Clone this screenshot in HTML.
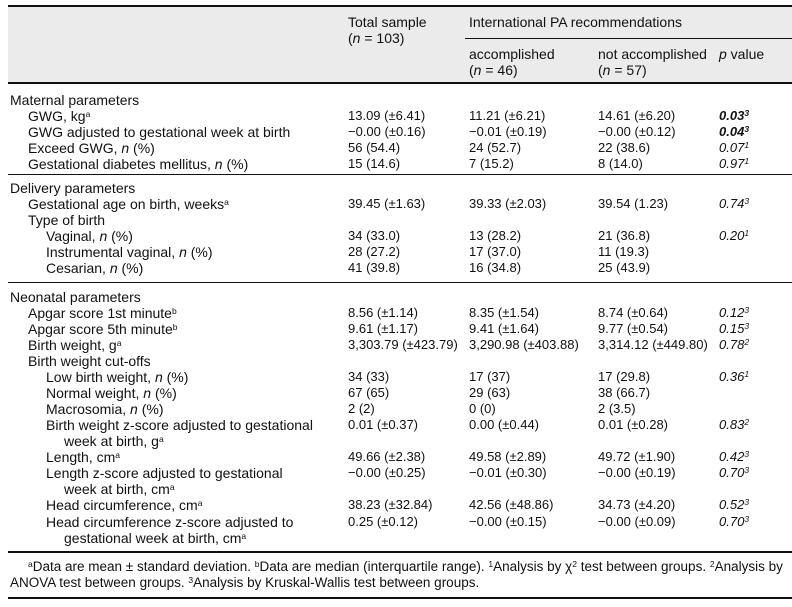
<!DOCTYPE html>
<html><head><meta charset="utf-8"><style>
body{margin:0;width:792px;height:607px;background:#fff;position:relative;overflow:hidden;font-family:"Liberation Sans",sans-serif;font-size:13px;color:#111}
.t{position:absolute;line-height:16px;white-space:nowrap}
.lb{font-size:14px}
.f{font-size:13.5px}
.l{position:absolute;height:1.5px;background:#111}
sup{font-size:8.5px;line-height:0;vertical-align:4px}
i{font-style:italic}
.p{font-style:italic}
.b{font-weight:bold;font-style:italic}
</style></head><body>
<div style="position:absolute;left:8px;top:6px;width:784px;height:77px;background:#ebebeb"></div>
<div class="l" style="left:8px;width:784px;top:5px"></div>
<div class="l" style="left:465px;width:327px;top:38px;height:1px"></div>
<div class="l" style="left:8px;width:784px;top:82px"></div>
<div class="t lb" style="left:348px;top:14px">Total sample</div>
<div class="t lb" style="left:348px;top:30px">(<i>n</i> = 103)</div>
<div class="t lb" style="left:469px;top:14px">International PA recommendations</div>
<div class="t lb" style="left:469px;top:46px">accomplished</div>
<div class="t lb" style="left:469px;top:62px">(<i>n</i> = 46)</div>
<div class="t lb" style="left:598px;top:46px">not accomplished</div>
<div class="t lb" style="left:598px;top:62px">(<i>n</i> = 57)</div>
<div class="t lb" style="left:719px;top:46px"><i>p</i> value</div>

<div class="t lb" style="left:10px;top:92px">Maternal parameters</div>
<div class="t lb" style="left:28px;top:108px">GWG, kg<sup>a</sup></div>
<div class="t" style="left:348px;top:108px">13.09 (±6.41)</div><div class="t" style="left:469px;top:108px">11.21 (±6.21)</div><div class="t" style="left:598px;top:108px">14.61 (±6.20)</div><div class="t b" style="left:719px;top:108px">0.03<sup>3</sup></div>
<div class="t lb" style="left:28px;top:124px">GWG adjusted to gestational week at birth</div>
<div class="t" style="left:348px;top:124px">−0.00 (±0.16)</div><div class="t" style="left:469px;top:124px">−0.01 (±0.19)</div><div class="t" style="left:598px;top:124px">−0.00 (±0.12)</div><div class="t b" style="left:719px;top:124px">0.04<sup>3</sup></div>
<div class="t lb" style="left:28px;top:140px">Exceed GWG, <i>n</i> (%)</div>
<div class="t" style="left:348px;top:140px">56 (54.4)</div><div class="t" style="left:469px;top:140px">24 (52.7)</div><div class="t" style="left:598px;top:140px">22 (38.6)</div><div class="t p" style="left:719px;top:140px">0.07<sup>1</sup></div>
<div class="t lb" style="left:28px;top:156px">Gestational diabetes mellitus, <i>n</i> (%)</div>
<div class="t" style="left:348px;top:156px">15 (14.6)</div><div class="t" style="left:469px;top:156px">7 (15.2)</div><div class="t" style="left:598px;top:156px">8 (14.0)</div><div class="t p" style="left:719px;top:156px">0.97<sup>1</sup></div>
<div class="l" style="left:8px;width:784px;top:174px;height:1px"></div>

<div class="t lb" style="left:10px;top:180px">Delivery parameters</div>
<div class="t lb" style="left:28px;top:196px">Gestational age on birth, weeks<sup>a</sup></div>
<div class="t" style="left:348px;top:196px">39.45 (±1.63)</div><div class="t" style="left:469px;top:196px">39.33 (±2.03)</div><div class="t" style="left:598px;top:196px">39.54 (1.23)</div><div class="t p" style="left:719px;top:196px">0.74<sup>3</sup></div>
<div class="t lb" style="left:28px;top:212px">Type of birth</div>
<div class="t lb" style="left:46px;top:228px">Vaginal, <i>n</i> (%)</div>
<div class="t" style="left:348px;top:228px">34 (33.0)</div><div class="t" style="left:469px;top:228px">13 (28.2)</div><div class="t" style="left:598px;top:228px">21 (36.8)</div><div class="t p" style="left:719px;top:228px">0.20<sup>1</sup></div>
<div class="t lb" style="left:46px;top:244px">Instrumental vaginal, <i>n</i> (%)</div>
<div class="t" style="left:348px;top:244px">28 (27.2)</div><div class="t" style="left:469px;top:244px">17 (37.0)</div><div class="t" style="left:598px;top:244px">11 (19.3)</div>
<div class="t lb" style="left:46px;top:260px">Cesarian, <i>n</i> (%)</div>
<div class="t" style="left:348px;top:260px">41 (39.8)</div><div class="t" style="left:469px;top:260px">16 (34.8)</div><div class="t" style="left:598px;top:260px">25 (43.9)</div>
<div class="l" style="left:8px;width:784px;top:282px;height:1px"></div>

<div class="t lb" style="left:10px;top:289px">Neonatal parameters</div>
<div class="t lb" style="left:28px;top:305px">Apgar score 1st minute<sup>b</sup></div>
<div class="t" style="left:348px;top:305px">8.56 (±1.14)</div><div class="t" style="left:469px;top:305px">8.35 (±1.54)</div><div class="t" style="left:598px;top:305px">8.74 (±0.64)</div><div class="t p" style="left:719px;top:305px">0.12<sup>3</sup></div>
<div class="t lb" style="left:28px;top:321px">Apgar score 5th minute<sup>b</sup></div>
<div class="t" style="left:348px;top:321px">9.61 (±1.17)</div><div class="t" style="left:469px;top:321px">9.41 (±1.64)</div><div class="t" style="left:598px;top:321px">9.77 (±0.54)</div><div class="t p" style="left:719px;top:321px">0.15<sup>3</sup></div>
<div class="t lb" style="left:28px;top:337px">Birth weight, g<sup>a</sup></div>
<div class="t" style="left:348px;top:337px">3,303.79 (±423.79)</div><div class="t" style="left:469px;top:337px">3,290.98 (±403.88)</div><div class="t" style="left:598px;top:337px">3,314.12 (±449.80)</div><div class="t p" style="left:719px;top:337px">0.78<sup>2</sup></div>
<div class="t lb" style="left:28px;top:353px">Birth weight cut-offs</div>
<div class="t lb" style="left:46px;top:369px">Low birth weight, <i>n</i> (%)</div>
<div class="t" style="left:348px;top:369px">34 (33)</div><div class="t" style="left:469px;top:369px">17 (37)</div><div class="t" style="left:598px;top:369px">17 (29.8)</div><div class="t p" style="left:719px;top:369px">0.36<sup>1</sup></div>
<div class="t lb" style="left:46px;top:385px">Normal weight, <i>n</i> (%)</div>
<div class="t" style="left:348px;top:385px">67 (65)</div><div class="t" style="left:469px;top:385px">29 (63)</div><div class="t" style="left:598px;top:385px">38 (66.7)</div>
<div class="t lb" style="left:46px;top:401px">Macrosomia, <i>n</i> (%)</div>
<div class="t" style="left:348px;top:401px">2 (2)</div><div class="t" style="left:469px;top:401px">0 (0)</div><div class="t" style="left:598px;top:401px">2 (3.5)</div>
<div class="t lb" style="left:46px;top:417px">Birth weight z-score adjusted to gestational</div>
<div class="t lb" style="left:64px;top:433px">week at birth, g<sup>a</sup></div>
<div class="t" style="left:348px;top:417px">0.01 (±0.37)</div><div class="t" style="left:469px;top:417px">0.00 (±0.44)</div><div class="t" style="left:598px;top:417px">0.01 (±0.28)</div><div class="t p" style="left:719px;top:417px">0.83<sup>2</sup></div>
<div class="t lb" style="left:46px;top:449px">Length, cm<sup>a</sup></div>
<div class="t" style="left:348px;top:449px">49.66 (±2.38)</div><div class="t" style="left:469px;top:449px">49.58 (±2.89)</div><div class="t" style="left:598px;top:449px">49.72 (±1.90)</div><div class="t p" style="left:719px;top:449px">0.42<sup>3</sup></div>
<div class="t lb" style="left:46px;top:465px">Length z-score adjusted to gestational</div>
<div class="t lb" style="left:64px;top:481px">week at birth, cm<sup>a</sup></div>
<div class="t" style="left:348px;top:465px">−0.00 (±0.25)</div><div class="t" style="left:469px;top:465px">−0.01 (±0.30)</div><div class="t" style="left:598px;top:465px">−0.00 (±0.19)</div><div class="t p" style="left:719px;top:465px">0.70<sup>3</sup></div>
<div class="t lb" style="left:46px;top:497px">Head circumference, cm<sup>a</sup></div>
<div class="t" style="left:348px;top:497px">38.23 (±32.84)</div><div class="t" style="left:469px;top:497px">42.56 (±48.86)</div><div class="t" style="left:598px;top:497px">34.73 (±4.20)</div><div class="t p" style="left:719px;top:497px">0.52<sup>3</sup></div>
<div class="t lb" style="left:46px;top:514px">Head circumference z-score adjusted to</div>
<div class="t lb" style="left:64px;top:530px">gestational week at birth, cm<sup>a</sup></div>
<div class="t" style="left:348px;top:514px">0.25 (±0.12)</div><div class="t" style="left:469px;top:514px">−0.00 (±0.15)</div><div class="t" style="left:598px;top:514px">−0.00 (±0.09)</div><div class="t p" style="left:719px;top:514px">0.70<sup>3</sup></div>
<div class="l" style="left:8px;width:784px;top:551px"></div>

<div class="t f" style="left:28px;top:559px"><sup>a</sup>Data are mean ± standard deviation. <sup>b</sup>Data are median (interquartile range). <sup>1</sup>Analysis by χ<sup>2</sup> test between groups. <sup>2</sup>Analysis by</div>
<div class="t f" style="left:10px;top:575px">ANOVA test between groups. <sup>3</sup>Analysis by Kruskal-Wallis test between groups.</div>
<div class="l" style="left:8px;width:784px;top:597px"></div>
</body></html>
